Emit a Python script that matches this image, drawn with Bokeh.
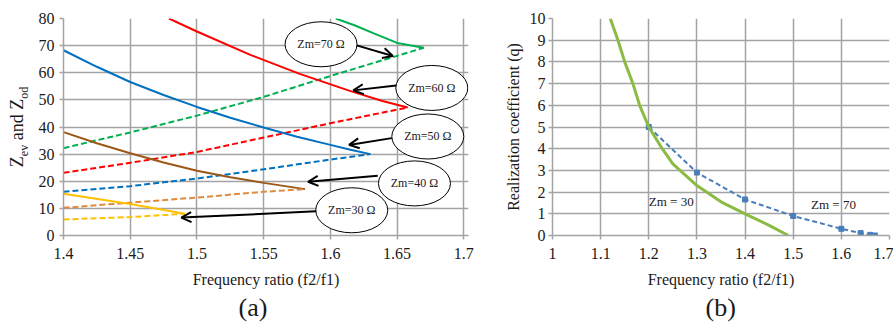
import math
from bokeh.plotting import figure
from bokeh.layouts import row
from bokeh.models import (FixedTicker, CustomJSTickFormatter, Arrow, OpenHead, Title,
                          Range1d, ColumnDataSource, Div)
from bokeh.core.properties import value
from bokeh.embed import file_html
from bokeh.resources import INLINE

FONT = "Liberation Serif"

# ---------------- panel (a) data ----------------
green_solid_x = [1.604, 1.618, 1.633, 1.65, 1.67]
green_solid_y = [80.0, 77.5, 74.4, 71.0, 69.2]
green_dash_x = [1.4, 1.45, 1.5, 1.55, 1.6, 1.67]
green_dash_y = [32.2, 38.0, 44.2, 51.1, 58.8, 69.2]

red_solid_x = [1.479, 1.5, 1.54, 1.577, 1.614, 1.639, 1.658]
red_solid_y = [80.0, 75.2, 66.6, 59.6, 53.4, 49.6, 47.2]
red_dash_x = [1.4, 1.45, 1.5, 1.55, 1.6, 1.658]
red_dash_y = [23.1, 26.8, 30.8, 36.1, 41.4, 47.2]

blue_solid_x = [1.4, 1.425, 1.45, 1.475, 1.5, 1.525, 1.55, 1.575, 1.6, 1.615, 1.63]
blue_solid_y = [68.3, 62.2, 56.6, 51.8, 47.4, 43.4, 39.8, 36.4, 33.4, 31.6, 30.0]
blue_dash_x = [1.4, 1.45, 1.5, 1.55, 1.6, 1.63]
blue_dash_y = [16.1, 18.2, 21.0, 24.4, 28.0, 30.0]

brown_solid_x = [1.4, 1.425, 1.45, 1.475, 1.5, 1.525, 1.55, 1.581]
brown_solid_y = [38.1, 34.0, 30.3, 26.9, 23.9, 21.5, 19.4, 17.1]
brown_dash_x = [1.4, 1.45, 1.5, 1.55, 1.581]
brown_dash_y = [10.2, 12.1, 14.0, 16.1, 17.1]

yellow_solid_x = [1.4, 1.45, 1.491]
yellow_solid_y = [15.4, 11.6, 8.0]
yellow_dash_x = [1.4, 1.45, 1.491]
yellow_dash_y = [5.9, 6.8, 8.0]

a_xticks = [1.4, 1.45, 1.5, 1.55, 1.6, 1.65, 1.7]
a_yticks = [0, 10, 20, 30, 40, 50, 60, 70, 80]

# callouts (ellipses with text and arrows)
callout_text = ["Zm=70 \u03a9", "Zm=60 \u03a9", "Zm=50 \u03a9", "Zm=40 \u03a9", "Zm=30 \u03a9"]
callout_x = [1.593, 1.676, 1.673, 1.663, 1.616]
callout_y = [70.5, 54.4, 36.5, 19.2, 9.3]
arrow_x0 = [1.6197, 1.6493, 1.646, 1.6355, 1.5894]
arrow_y0 = [70.1, 55.3, 35.9, 22.0, 8.9]
arrow_x1 = [1.6468, 1.6172, 1.614, 1.5833, 1.4883]
arrow_y1 = [66.2, 53.5, 33.4, 19.8, 6.6]

# ---------------- panel (b) data ----------------
zm30_x = [1.12, 1.136, 1.15, 1.167, 1.181, 1.2, 1.225, 1.25, 1.3, 1.35, 1.4, 1.45, 1.49]
zm30_y = [10.0, 9.0, 8.0, 7.0, 6.0, 5.0, 4.1, 3.3, 2.3, 1.55, 1.0, 0.47, 0.0]
zm70_x = [1.2, 1.3, 1.4, 1.5, 1.6, 1.64, 1.66, 1.67]
zm70_y = [5.0, 2.9, 1.66, 0.9, 0.31, 0.11, 0.03, 0.0]
b_xticks = [1.0, 1.1, 1.2, 1.3, 1.4, 1.5, 1.6, 1.7]
b_yticks = [0, 1, 2, 3, 4, 5, 6, 7, 8, 9, 10]
lab_x = [1.2, 1.537]
lab_y = [1.55, 1.43]
lab_t = ["Zm = 30", "Zm = 70"]

GRID = "#a3a3a3"
TXT = "#1a1a1a"
fmt = CustomJSTickFormatter(code="return String(Math.round(tick*1000)/1000);")


def style(p, xt, yt):
    p.xaxis.ticker = FixedTicker(ticks=xt)
    p.yaxis.ticker = FixedTicker(ticks=yt)
    p.xgrid.ticker = FixedTicker(ticks=xt)
    p.ygrid.ticker = FixedTicker(ticks=yt)
    p.xaxis.formatter = fmt
    p.yaxis.formatter = fmt
    for g in (p.xgrid, p.ygrid):
        g.grid_line_color = GRID
        g.grid_line_width = 1.5
    for ax in (p.xaxis, p.yaxis):
        ax.axis_line_color = GRID
        ax.axis_line_width = 1.5
        ax.major_tick_line_color = GRID
        ax.major_tick_line_width = 1.5
        ax.major_tick_in = 0
        ax.major_tick_out = 4
        ax.minor_tick_line_color = None
        ax.major_label_text_font = FONT
        ax.major_label_text_font_size = "16px"
        ax.major_label_text_color = TXT
        ax.axis_label_text_font = FONT
        ax.axis_label_text_font_size = "16px"
        ax.axis_label_text_font_style = "normal"
        ax.axis_label_text_color = TXT
    p.xaxis.major_label_standoff = 8
    p.xaxis.axis_label_standoff = 9
    p.outline_line_color = None
    p.background_fill_color = "white"
    p.border_fill_color = "white"


H = 322
# ---------------- rotated y title of (a), with real subscripts ----------------
ylabel_html = ("<div style='position:relative;width:34px;height:%dpx;'>"
               "<div style=\"position:absolute;left:19px;top:127px;white-space:nowrap;"
               "transform:translate(-50%%,-50%%) rotate(-90deg);"
               "font-family:'Liberation Serif',serif;font-size:18px;line-height:1;color:%s;\">"
               "Z<sub style='font-size:12px;'>ev</sub> and Z<sub style='font-size:12px;'>od</sub>"
               "</div></div>") % (H, TXT)
ylab = Div(text=ylabel_html, width=34, height=H, margin=0)

# ---------------- figure (a) ----------------
pa = figure(width=442, height=H, output_backend="svg", toolbar_location=None,
            x_range=Range1d(1.4, 1.7035), y_range=Range1d(0, 80),
            min_border_left=29, min_border_right=8, min_border_top=18, min_border_bottom=87)
style(pa, a_xticks, a_yticks)
pa.xaxis.axis_label = "Frequency ratio (f2/f1)"
pa.yaxis.major_label_standoff = 5

LW = 2
DASH = "6 3"
pa.line(green_solid_x, green_solid_y, line_color="#00B050", line_width=LW)
pa.line(green_dash_x, green_dash_y, line_color="#00B050", line_width=LW, line_dash=DASH)
pa.line(red_solid_x, red_solid_y, line_color="#FF0000", line_width=LW)
pa.line(red_dash_x, red_dash_y, line_color="#FF0000", line_width=LW, line_dash=DASH)
pa.line(blue_solid_x, blue_solid_y, line_color="#0070C0", line_width=LW)
pa.line(blue_dash_x, blue_dash_y, line_color="#0070C0", line_width=LW, line_dash=DASH)
pa.line(brown_solid_x, brown_solid_y, line_color="#9C5716", line_width=LW)
pa.line(brown_dash_x, brown_dash_y, line_color="#E08A3C", line_width=LW, line_dash=DASH)
pa.line(yellow_solid_x, yellow_solid_y, line_color="#FFC000", line_width=LW)
pa.line(yellow_dash_x, yellow_dash_y, line_color="#FFC000", line_width=LW, line_dash=DASH)

csrc = ColumnDataSource(dict(x=callout_x, y=callout_y, t=callout_text))
pa.ellipse(x="x", y="y", width=72, height=45, width_units="screen", height_units="screen",
           fill_color="white", line_color="black", line_width=1, source=csrc)
pa.text(x="x", y="y", text="t", text_align="center", text_baseline="middle",
        text_font=value(FONT), text_font_size="12px", text_color=TXT, source=csrc)
for x0, y0, x1, y1 in zip(arrow_x0, arrow_y0, arrow_x1, arrow_y1):
    pa.add_layout(Arrow(x_start=x0, y_start=y0, x_end=x1, y_end=y1, line_color="black",
                        line_width=2, end=OpenHead(size=10, line_color="black", line_width=2)))

pa.add_layout(Title(text="(a)", align="left", offset=175, standoff=0, text_font=FONT,
                    text_font_size="26px", text_font_style="normal", text_color=TXT), "below")

# ---------------- figure (b) ----------------
pb = figure(width=417, height=H, output_backend="svg", toolbar_location=None,
            x_range=Range1d(1.0, 1.7), y_range=Range1d(0, 10),
            min_border_left=76, min_border_right=4, min_border_top=18, min_border_bottom=87)
style(pb, b_xticks, b_yticks)
pb.xaxis.axis_label = "Frequency ratio (f2/f1)"
pb.yaxis.axis_label = "Realization coefficient (q)"
pb.yaxis.major_label_standoff = 3
pb.yaxis.axis_label_standoff = 5

pb.line(zm70_x, zm70_y, line_color="#4A7EBB", line_width=2, line_dash="5 3")
pb.scatter(zm70_x, zm70_y, marker="square", size=5, fill_color="#4A7EBB", line_color="#4A7EBB")
pb.line(zm30_x, zm30_y, line_color="#8CBB45", line_width=3)

pb.text(x=lab_x, y=lab_y, text=lab_t, text_align="left", text_baseline="middle",
        text_font=value(FONT), text_font_size="13px", text_color=TXT)

pb.add_layout(Title(text="(b)", align="left", offset=153, standoff=0, text_font=FONT,
                    text_font_size="26px", text_font_style="normal", text_color=TXT), "below")

layout = row(ylab, pa, pb, spacing=0)
open("out.html", "w").write(file_html(layout, INLINE))
